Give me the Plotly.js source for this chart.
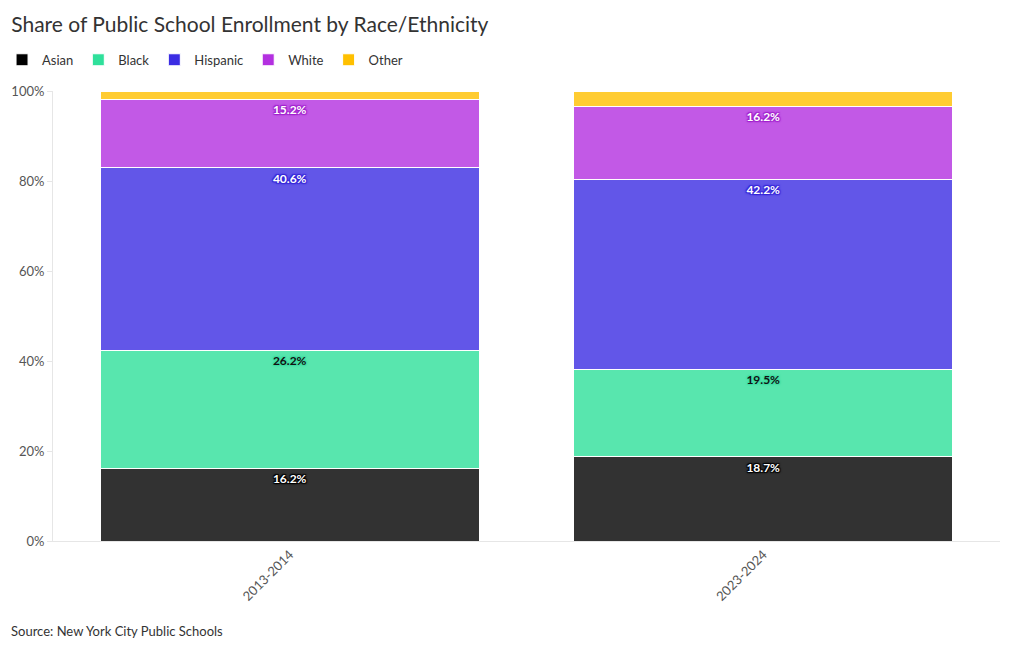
<!DOCTYPE html>
<html>
<head>
<meta charset="utf-8">
<script src="https://cdn.plot.ly/plotly-3.0.1.min.js"></script>
<style>html,body{margin:0;padding:0;background:#fff;}#chart{width:1020px;height:650px;}</style>
</head>
<body>
<div id="chart"></div>
<script>
const years = ["2013-2014", "2023-2024"];
const asian = [16.2, 18.7];
const black = [26.2, 19.5];
const hispanic = [40.6, 42.2];
const white = [15.2, 16.2];
const other = [1.8, 3.4];
const yTicks = [0, 20, 40, 60, 80, 100];
const yTickLabels = ["0%", "20%", "40%", "60%", "80%", "100%"];

const FONT = "Lato, 'Noto Sans', sans-serif";

function halo(c) {
  return `1px 1px 1px ${c}, -1px -1px 1px ${c}, 1px -1px 1px ${c}, -1px 1px 1px ${c}, 0 0 3px ${c}`;
}

function mk(name, vals, color, txtColor, shadow, showText) {
  return {
    type: "bar",
    name: name,
    x: years,
    y: vals,
    text: showText ? vals.map(v => v.toFixed(1) + "%") : vals.map(() => ""),
    textposition: "inside",
    insidetextanchor: "end",
    constraintext: "none",
    textangle: 0,
    textfont: {family: FONT, size: 12, color: txtColor, weight: "bold", shadow: shadow},
    marker: {color: color, opacity: 0.8, line: {color: "#ffffff", width: 1}},
    hoverinfo: "x+y+name"
  };
}

const data = [
  mk("Asian", asian, "#000000", "#ffffff", halo("#000"), true),
  mk("Black", black, "#2fe09b", "#111111", halo("#3fdca2"), true),
  mk("Hispanic", hispanic, "#3b2de3", "#ffffff", halo("#3424d8"), true),
  mk("White", white, "#b330e0", "#ffffff", halo("#a020cc"), true),
  mk("Other", other, "#ffc000", "#333333", "none", false)
];

const layout = {
  width: 1020,
  height: 650,
  barmode: "stack",
  bargap: 0.2,
  paper_bgcolor: "#ffffff",
  plot_bgcolor: "#ffffff",
  font: {family: FONT, color: "#444"},
  title: {text: "Share of Public School Enrollment by Race/Ethnicity", x: 0.011, xanchor: "left", y: 0.962, yanchor: "middle",
          font: {family: FONT, size: 21, color: "#333"}},
  margin: {l: 53, r: 20, t: 91, b: 109, autoexpand: false},
  showlegend: true,
  legend: {orientation: "h", traceorder: "normal", xref: "container", x: 0.002, xanchor: "left",
           yref: "container", y: 0.908, yanchor: "middle",
           font: {family: FONT, size: 13, color: "#333"}, itemwidth: 30, tracegroupgap: 0, itemclick: false},
  xaxis: {type: "category", tickangle: -45, showline: true, linecolor: "#e6e6e6", linewidth: 1,
          ticks: "", showgrid: false, tickfont: {family: FONT, size: 13, color: "#555"}},
  yaxis: {range: [0, 100], tickvals: yTicks, ticktext: yTickLabels, showgrid: false,
          showline: true, linecolor: "#e6e6e6", ticks: "outside", ticklen: 5, tickcolor: "#e6e6e6",
          zeroline: false, tickfont: {family: FONT, size: 13, color: "#555"}},
  annotations: [{text: "Source: New York City Public Schools", xref: "paper", yref: "paper",
                 x: -0.046, xanchor: "left", y: -0.2, yanchor: "middle", showarrow: false,
                 font: {family: FONT, size: 13, color: "#333"}}]
};

Plotly.newPlot("chart", data, layout, {displayModeBar: false});
</script>
</body>
</html>
